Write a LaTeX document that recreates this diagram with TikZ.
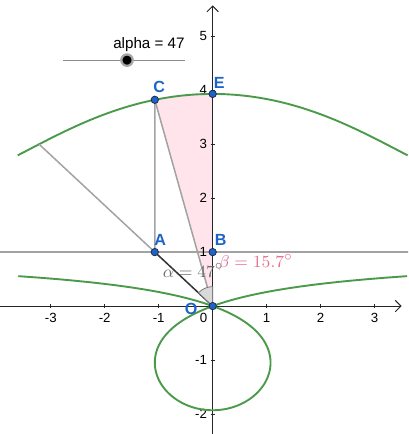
\documentclass[tikz,border=0pt]{standalone}
\usepackage{fontspec}
\setmainfont{Liberation Sans}
\usepackage{tikz}
\usetikzlibrary{arrows.meta, positioning, calc}
\definecolor{curvegreen}{HTML}{4A9A4A}
\definecolor{guidegray}{HTML}{A3A3A3}
\definecolor{segdark}{HTML}{333333}
\definecolor{ptblue}{HTML}{1E64C8}
\definecolor{ptedge}{HTML}{1A2A44}
\definecolor{lblblue}{HTML}{1E64C8}
\definecolor{sectorpink}{HTML}{FFE4EC}
\definecolor{betapink}{HTML}{E56F8F}
\definecolor{alphagray}{HTML}{6E6E6E}

\begin{document}
\begin{tikzpicture}[x=1cm,y=1cm]
  \tikzstyle{pt}=[circle, fill=ptblue, draw=ptedge, line width=0.4pt,
    minimum size=3.9pt, inner sep=0pt]
  \tikzstyle{lbl}=[text=lblblue, inner sep=0pt, font=\fontsize{8.5}{9}\selectfont\bfseries]
  \tikzstyle{ticklbl}=[inner sep=0pt, font=\fontsize{7}{8}\selectfont]
  \tikzstyle{guide}=[draw=guidegray, line width=0.8pt]
  \tikzstyle{conch}=[curvegreen, line width=1pt]
  \tikzstyle{axis}=[black!85, line width=0.5pt]

  \useasboundingbox (-3.94,-2.37) rectangle (3.62,5.67);
  \clip (-3.94,-2.37) rectangle (3.62,5.67);

  \coordinate (O) at (0,0);
  \coordinate (A) at ({-tan(47)},1);
  \coordinate (B) at (0,1);
  \coordinate (C) at (-1.072,3.821);
  \coordinate (E) at (0,3.93);
  \coordinate (P) at ({-tan(47)-2.93*sin(47)},{1+2.93*cos(47)});

  % beta sector
  \fill[sectorpink] (O) -- (C)
    -- plot[domain=15.68:0, samples=20]
       ({-(tan(\x)+2.93*sin(\x))},{1+2.93*cos(\x)})
    -- (E) -- cycle;

  % line through A and B
  \draw[guide, shorten <=-3.2cm, shorten >=-4cm] (A) -- (B);

  % axes
  \draw[axis, -{Straight Barb[length=3pt,width=6pt]}] (-3.94,0) -- (3.5,0);
  \draw[axis, -{Straight Barb[length=3pt,width=6pt]}] (0,-2.37) -- (0,5.57);
  \foreach \x in {-3,-2,-1,1,2,3} {
    \draw[axis] (\x,-0.04) -- (\x,0.04);
    \node[ticklbl] (xt\x) at (\x,-0.22) {\x};
  }
  \foreach \y in {-2,-1,1,2,3,4,5} {
    \draw[axis] (-0.04,\y) -- (0.04,\y);
    \node[ticklbl, anchor=east] (yt\y) at (-0.1,\y) {\y};
  }
  \node[ticklbl] (xt0) at (-0.17,-0.22) {0};

  % conchoid, both branches
  \draw[conch] plot[domain=-52.3:52.3, samples=120]
    ({tan(\x)+2.93*sin(\x)},{1+2.93*cos(\x)});
  \draw[conch] plot[domain=-81.25:81.25, samples=300]
    ({tan(\x)-2.93*sin(\x)},{1-2.93*cos(\x)});

  \draw[guide] (P) -- (A);
  \draw[guide] (A) -- (C);
  \draw[guide] (C) -- (O);
  \draw[segdark, line width=0.8pt] (A) -- (O);

  % alpha mark
  \filldraw[fill=black!15, draw=black!55, line width=0.4pt]
    (O) -- ++(90:0.36) arc[start angle=90, end angle=137, radius=0.36] -- cycle;

  \node[alphagray, inner sep=0pt, font=\fontsize{9.5}{10}\selectfont] (alab) at (-0.36,0.66)
    {$\alpha = 47^\circ$};
  \node[betapink, inner sep=0pt, font=\fontsize{9.5}{10}\selectfont] (blab) at (0.80,0.81)
    {$\beta = 15.7^\circ$};

  % points
  \node[pt] (dotO) at (O) {};
  \node[pt] (dotA) at (A) {};
  \node[pt] (dotB) at (B) {};
  \node[pt] (dotC) at (C) {};
  \node[pt] (dotE) at (E) {};
  \node[lbl] (lO) at (-0.40,-0.06) {O};
  \node[lbl] (lA) at (-0.97,1.22) {A};
  \node[lbl] (lB) at (0.15,1.22) {B};
  \node[lbl] (lC) at (-0.99,4.06) {C};
  \node[lbl] (lE) at (0.12,4.13) {E};

  % slider
  \coordinate (slL) at (-2.77,4.556);
  \coordinate (slR) at (-0.513,4.556);
  \draw[black!45, line width=0.5pt] (slL) -- (slR);
  \node[circle, fill=black, draw=black!35, line width=1.2pt,
    minimum size=6pt, inner sep=0pt] (knob) at (-1.587,4.556) {};
  \node[inner sep=0pt, anchor=east, font=\fontsize{8}{9}\selectfont] (slbl) at (-0.513,4.84)
    {alpha = 47};
\end{tikzpicture}
\end{document}
